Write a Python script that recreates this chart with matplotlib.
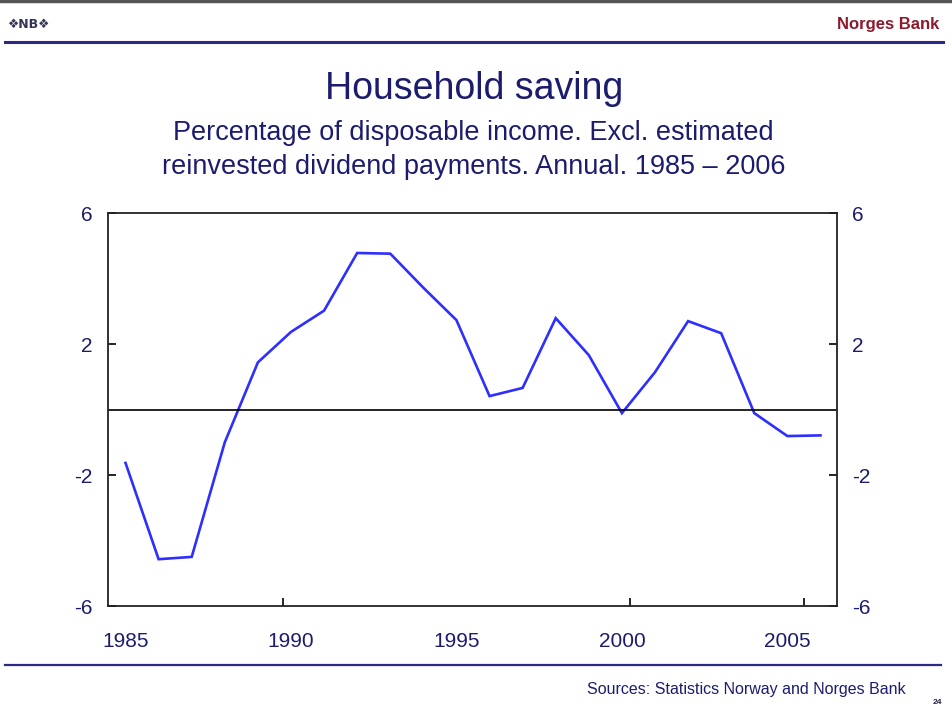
import numpy as np
import matplotlib.pyplot as plt
from matplotlib.lines import Line2D

plt.rcParams["font.family"] = ["Liberation Sans", "DejaVu Sans"]

# Household saving, % of disposable income
years = [1985, 1986, 1987, 1988, 1989, 1990, 1991, 1992, 1993, 1994, 1995,
         1996, 1997, 1998, 1999, 2000, 2001, 2002, 2003, 2004, 2005, 2006]
saving = [-1.63, -4.57, -4.50, -1.00, 1.44, 2.37, 3.02, 4.78, 4.76, 3.72, 2.73,
          0.41, 0.66, 2.79, 1.66, -0.11, 1.14, 2.70, 2.33, -0.11, -0.81, -0.79]
year_labels = [1985, 1990, 1995, 2000, 2005]
y_ticks = [-6, -2, 2, 6]

navy = "#1c1c6e"
line_blue = "#2e2eff"

fig = plt.figure(figsize=(9.53, 7.2), dpi=100)

# header / footer decorations
fig.add_artist(Line2D([0, 1], [0.998, 0.998], color="#555555", lw=2.5))
fig.add_artist(Line2D([0.005, 0.99], [0.941, 0.941], color="#2a2a86", lw=2.2))
fig.add_artist(Line2D([0.005, 0.987], [0.076, 0.076], color="#2a2a86", lw=1.6))
fig.text(0.008, 0.966, "\u2756NB\u2756", color="#34345a", fontsize=9,
         fontweight="bold", va="center", ha="left", family="DejaVu Sans")
fig.text(0.986, 0.966, "Norges Bank", color="#8b1a2c", fontsize=12,
         fontweight="bold", va="center", ha="right")

fig.text(0.497, 0.877, "Household saving", color=navy, fontsize=27,
         ha="center", va="center")
fig.text(0.497, 0.792, "Percentage of disposable income. Excl. estimated\n"
         "reinvested dividend payments. Annual. 1985 \u2013 2006",
         color=navy, fontsize=19.5, ha="center", va="center", linespacing=1.4)

fig.text(0.95, 0.042, "Sources: Statistics Norway and Norges Bank", color=navy,
         fontsize=11.5, ha="right", va="center")
fig.text(0.984, 0.024, "24", color="#222244", fontsize=6, fontweight="bold",
         ha="center", va="center")

ax = fig.add_axes([0.1133, 0.1583, 0.7650, 0.5458])
ax.plot(years, saving, color=line_blue, lw=1.9, solid_joinstyle="miter")
ax.axhline(0, color="black", lw=1.2)

ax.set_xlim(1984.47, 2006.5)
ax.set_ylim(-6, 6)

ax.set_xticks(year_labels)
ax.set_xticklabels([str(y) for y in year_labels], color=navy, fontsize=15)
ax.tick_params(axis="x", length=0, pad=19)
ax.set_xticks([1989.75, 1995.0, 2000.25, 2005.5], minor=True)
ax.tick_params(axis="x", which="minor", direction="in", length=6, width=1.2)

ax.set_yticks(y_ticks)
ax.set_yticklabels([str(v) for v in y_ticks], color=navy, fontsize=15)
ax.tick_params(axis="y", direction="in", length=6, width=1.2, pad=11,
               left=True, right=True, labelleft=True, labelright=True)

for s in ax.spines.values():
    s.set_linewidth(1.3)
    s.set_color("#222222")

fig.savefig("out.png", dpi=100)
